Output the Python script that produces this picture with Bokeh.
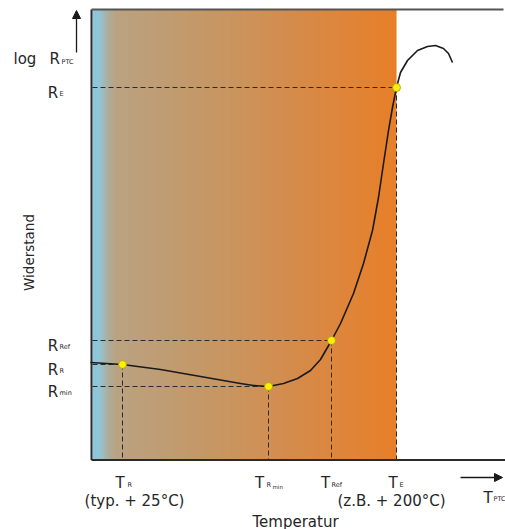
import numpy as np
from bokeh.plotting import figure
from bokeh.models import Range1d, Arrow, NormalHead
from bokeh.core.properties import value
from bokeh.embed import file_html
from bokeh.resources import INLINE

# ---- data (chart units: origin at the axes corner) ----
curve_T = [0, 32, 70, 110, 150, 163, 178, 193, 207, 220, 230, 241, 250, 263, 273,
           282, 288, 293, 298, 302, 306, 310, 317, 327, 337, 345, 353, 358, 362]
curve_R = [98, 96, 91, 84, 77, 75, 74, 77, 82, 90, 101, 120, 137, 167, 197,
           230, 263, 297, 330, 353, 373, 388, 400, 410, 414, 415, 412, 407, 398]

point_T = [32, 178, 241, 306]          # T_R, T_Rmin, T_Ref, T_E
point_R = [96, 74, 120, 373]           # R_R, R_min, R_Ref, R_E
r_subs = ["R", "min", "Ref", "E"]
t_subs = ["R", "R", "Ref", "E"]
t_notes = ["(typ. + 25°C)", "(z.B. + 200°C)"]
note_T = [point_T[0], point_T[3]]
x_title = "Temperatur"
y_title = "Widerstand"
axis_T_end = 413
axis_R_end = 451

# ---- figure ----
FONT = value("DejaVu Sans")
TXT = "#262626"
p = figure(width=505, height=529, output_backend="svg", toolbar_location=None,
           x_range=Range1d(-90, 415), y_range=Range1d(-69, 460),
           min_border=0, outline_line_color=None)
p.axis.visible = False
p.grid.visible = False
p.background_fill_color = "white"
p.border_fill_color = "white"

# heated region gradient (style only)
stops_x = [2, 10, 17, 26, 110, 160, 210, point_T[3]]
stops_c = np.array([(138, 200, 222), (148, 195, 210), (172, 174, 155), (186, 162, 130),
                    (196, 152, 104), (205, 146, 90), (214, 138, 74), (232, 127, 40)], float)
lefts = np.arange(2, point_T[3], 1.0)
rights = np.minimum(lefts + 1.6, point_T[3])
cols = []
for l in lefts:
    c = [int(round(np.interp(l + 0.5, stops_x, stops_c[:, k]))) for k in range(3)]
    cols.append("#%02x%02x%02x" % tuple(c))
p.quad(left=lefts, right=rights, bottom=0.5, top=axis_R_end, fill_color=cols, line_color=None)

# frame lines
p.segment(x0=[1], y0=[0.5], x1=[1], y1=[axis_R_end], line_color="#2b2b2b", line_width=2)
p.segment(x0=[1], y0=[axis_R_end], x1=[axis_T_end], y1=[axis_R_end], line_color="#555555", line_width=2)
p.segment(x0=[1], y0=[0.5], x1=[415], y1=[0.5], line_color="#2b2b2b", line_width=2)

# dashed guide lines
p.segment(x0=[2] * 4, y0=point_R, x1=point_T, y1=point_R,
          line_color="#2b2b2b", line_width=1, line_dash="5 3")
p.segment(x0=point_T, y0=point_R, x1=point_T, y1=[0.5] * 4,
          line_color="#2b2b2b", line_width=1, line_dash="5 3")

# curve
p.line(curve_T, curve_R, line_color="#1a1a1a", line_width=1.6, line_join="round")

# points
p.scatter(point_T, point_R, size=8, fill_color="#ffee00", line_color="#a09a20", line_width=0.8)


def txt(x, y, s, size, align="left", baseline="alphabetic", angle=0.0):
    p.text(x=[x], y=[y], text=[s], text_font=FONT, text_font_size=f"{size}px",
           text_color=TXT, text_align=align, text_baseline=baseline, angle=angle)


# y axis label "log R_PTC" and arrow
txt(-77, 402, "log", 15)
txt(-41, 402, "R", 15)
txt(-29, 399, "PTC", 6.5)
p.add_layout(Arrow(end=NormalHead(size=8, fill_color="#1a1a1a", line_color="#1a1a1a"),
                   x_start=-14, y_start=408, x_end=-14, y_end=450,
                   line_color="#1a1a1a", line_width=1.3))

# R tick labels
for r, s in zip(point_R, r_subs):
    txt(-37.5, r - 5.5, "R", 15, align="center")
    txt(-31, r - 6.5, s, 6.5)

txt(-62, 208, y_title, 13.5, align="center", baseline="middle", angle=np.pi / 2)

# T tick labels
t_off = [-2.5, -9, -6, -3.5]
s_off = [5, -2, 0, 3]
for t, s, a, b in zip(point_T, t_subs, t_off, s_off):
    txt(t + a, -22, "T", 15, align="center")
    txt(t + b, -24, s, 6.5)
txt(point_T[1] + 4, -26, "min", 5.5)

for t, s, dx in zip(note_T, t_notes, [12, -5]):
    txt(t + dx, -40, s, 15, align="center", baseline="middle")

txt(205, -61, x_title, 15, align="center")

# x axis arrow and T_PTC
p.add_layout(Arrow(end=NormalHead(size=8, fill_color="#1a1a1a", line_color="#1a1a1a"),
                   x_start=370, y_start=-17, x_end=412, y_end=-17,
                   line_color="#1a1a1a", line_width=1.3))
txt(393, -37, "T", 15)
txt(403, -38, "PTC", 6.5)

open("out.html", "w").write(file_html(p, INLINE))
